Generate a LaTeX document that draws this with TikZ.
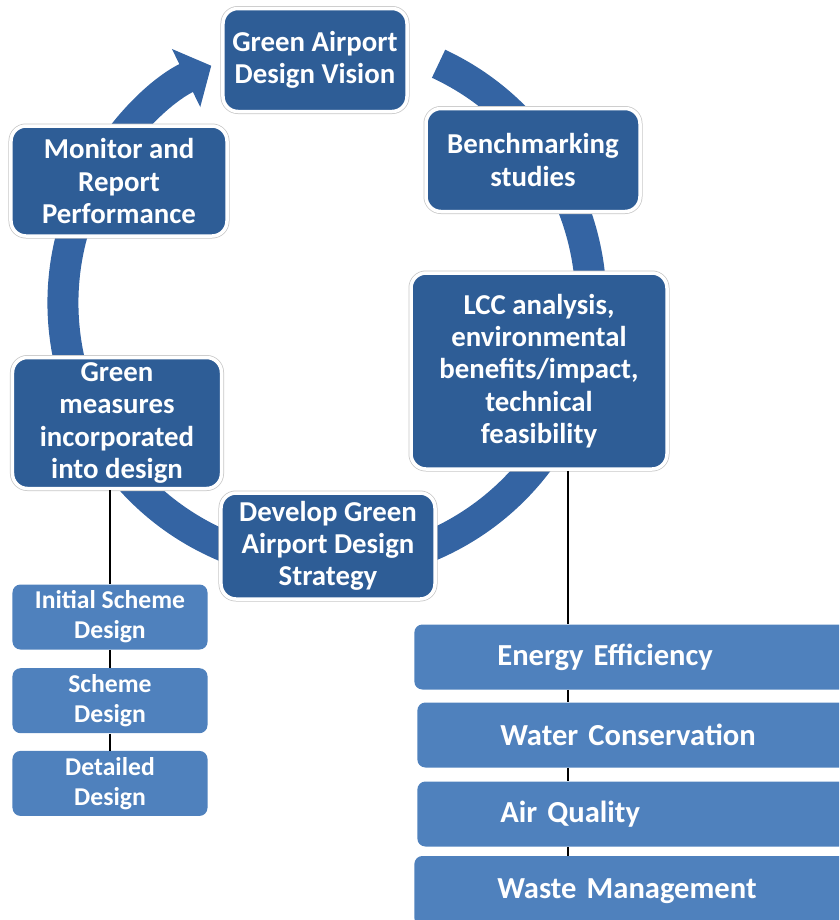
\documentclass[tikz,border=0pt]{standalone}
\usepackage{fontspec}
\setmainfont{Carlito}
\usetikzlibrary{positioning,arrows.meta,calc}
\definecolor{CycBlue}{HTML}{2E5D96}
\definecolor{RingBlue}{HTML}{3464A3}
\definecolor{StepBlue}{HTML}{4F81BD}

\begin{document}
\begin{tikzpicture}[x=0.2mm, y=-0.2mm,
    cyc/.style={draw=white, line width=0.7mm, fill=CycBlue, rounded corners=3mm,
                preaction={draw=black!22, line width=1mm},
                text=white, align=center, inner sep=1mm,
                font=\bfseries\fontsize{16.4}{18.3}\selectfont},
    phase/.style={fill=StepBlue, rounded corners=1.6mm, minimum width=39mm,
                  minimum height=13mm, text=white, align=center, inner sep=1mm,
                  font=\bfseries\fontsize{14.6}{17}\selectfont},
    goal/.style={fill=StepBlue, rounded corners=1.6mm, anchor=west,
                 minimum height=13mm, text width=75mm, inner xsep=16.6mm,
                 text=white, align=left, font=\bfseries\fontsize{17.4}{20}\selectfont},
    ring/.style={RingBlue, line width=6.2mm,
                 -{Triangle[length=5.6mm, width=12.6mm]}},
    link/.style={black, line width=0.4mm},
  ]
  \useasboundingbox (0,0) rectangle (839,920);
  \clip (0,0) rectangle (839,920);

  % the cycle arrow behind the boxes
  \coordinate (ctr) at (327,303);
  \draw[ring] ($(ctr)+(-65:264)$) arc[start angle=-65, end angle=244, radius=264];

  % cycle steps
  \node[cyc, minimum width=36.8mm, minimum height=20.6mm] (vision) at (315,60)
    {Green Airport\\Design Vision};
  \node[cyc, minimum width=42.8mm, minimum height=20.6mm] (bench) at (533,160)
    {Benchmarking\\studies};
  \node[cyc, minimum width=51.2mm, minimum height=39.2mm] (lcc) at (539,371)
    {LCC analysis,\\environmental\\benefits/impact,\\technical\\feasibility};
  \node[cyc, minimum width=42.8mm, minimum height=21.2mm] (strategy) at (328,546)
    {Develop Green\\Airport Design\\Strategy};
  \node[cyc, minimum width=41.8mm, minimum height=26.2mm] (measures) at (117,423)
    {Green\\measures\\incorporated\\into design};
  \node[cyc, minimum width=43.2mm, minimum height=22mm] (monitor) at (119,181)
    {Monitor and\\Report\\Performance};

  % design stages
  \node[phase] (initial) at (110,617) {Initial Scheme\\Design};
  \node[phase, below=3.6mm of initial] (scheme) {Scheme\\Design};
  \node[phase, below=3.4mm of scheme] (detailed) {Detailed\\Design};
  \draw[link] (measures.south -| initial.north) -- (initial);
  \draw[link] (initial) -- (scheme);
  \draw[link] (scheme) -- (detailed);

  % green areas
  \coordinate (trunk) at (568,0);
  \node[goal] (energy) at (414,657) {Energy Efficiency};
  \node[goal] (water) at (417,735) {Water Conservation};
  \node[goal] (air) at (417,814) {Air Quality};
  \node[goal, minimum height=14mm] (waste) at (414,891) {Waste Management};
  \draw[link] (lcc.south -| trunk) -- (energy.north -| trunk);
  \draw[link] (energy.south -| trunk) -- (water.north -| trunk);
  \draw[link] (water.south -| trunk) -- (air.north -| trunk);
  \draw[link] (air.south -| trunk) -- (waste.north -| trunk);
\end{tikzpicture}
\end{document}
